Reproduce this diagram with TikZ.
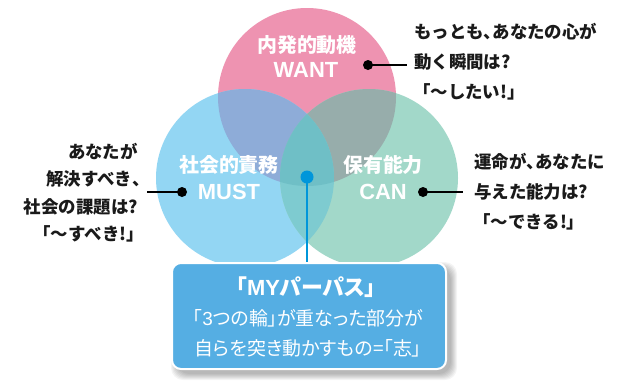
\documentclass[tikz,border=0pt]{standalone}
\usepackage{fontspec}
\newfontfamily\jp{Noto Sans CJK JP}
\newfontfamily\jpp{Noto Sans CJK JP}[RawFeature=+palt]
\newfontfamily\lat{Liberation Sans}
\definecolor{cpink}{HTML}{EE93B1}
\definecolor{cblue}{HTML}{93D6F3}
\definecolor{cgreen}{HTML}{A2D8C9}
\definecolor{cpb}{HTML}{8EACD8}
\definecolor{cpg}{HTML}{97ADAB}
\definecolor{cbg}{HTML}{7ECBD0}
\definecolor{cpbg}{HTML}{6FBFC6}
\definecolor{cbox}{HTML}{55AEE3}
\definecolor{cdot}{HTML}{0096DA}
\definecolor{ctext}{HTML}{1A1A1A}
\newcommand{\tc}{\makebox[0.5em][l]{、}}
\tikzset{
  circlabel/.style={text=white,font=\jp\bfseries\fontsize{20}{22}\selectfont,inner sep=0pt},
  circlat/.style={text=white,font=\lat\bfseries\fontsize{22}{24}\selectfont,inner sep=0pt},
  note/.style={text=ctext,font=\jp\bfseries\fontsize{17.5}{19}\selectfont,inner sep=0pt},
  blackdot/.style={circle,fill=black,minimum size=10bp,inner sep=0pt},
  bluedot/.style={circle,fill=cdot,minimum size=13bp,inner sep=0pt},
  leader/.style={line width=2bp,black},
  boxtitle/.style={text=white,font=\jpp\bfseries\fontsize{22}{24}\selectfont,inner sep=0pt},
  boxtext/.style={text=white,font=\jpp\fontsize{19}{21}\selectfont,inner sep=0pt},
}
\begin{document}
\begin{tikzpicture}[x=1bp,y=-1bp]
\useasboundingbox (0,0) rectangle (620,382);
\fill[white] (0,0) rectangle (620,382);
% circles
\def\R{89}
\coordinate (cw) at (307,97);
\coordinate (cm) at (245,178);
\coordinate (cc) at (369,178);
\fill[cpink] (cw) circle (\R);
\fill[cblue] (cm) circle (\R);
\fill[cgreen] (cc) circle (\R);
\begin{scope}
  \clip (cw) circle (\R);
  \fill[cpb] (cm) circle (\R);
  \fill[cpg] (cc) circle (\R);
\end{scope}
\begin{scope}
  \clip (cm) circle (\R);
  \fill[cbg] (cc) circle (\R);
  \clip (cc) circle (\R);
  \fill[cpbg] (cw) circle (\R);
\end{scope}
% circle labels
\node[circlabel] (wantj) at (307,45) {内発的動機};
\node[circlat] (want) at (306,70) {WANT};
\node[circlabel] (mustj) at (229,165) {社会的責務};
\node[circlat] (must) at (229,192) {MUST};
\node[circlabel] (canj) at (383,165) {保有能力};
\node[circlat] (can) at (383,192) {CAN};
% leaders
\node[blackdot] (dw) at (368,65) {};
\coordinate (ew) at (407,65);
\draw[leader] (dw.center) -- (ew);
\node[blackdot] (dm) at (182,192) {};
\coordinate (em) at (147,192);
\draw[leader] (dm.center) -- (em);
\node[blackdot] (dc) at (423,192) {};
\coordinate (ec) at (463,192);
\draw[leader] (dc.center) -- (ec);
% notes right top
\node[note,anchor=west] (w1) at (414,32) {もっとも\tc あなたの心が};
\node[note,anchor=west] (w2) at (414,62) {動く瞬間は?};
\node[note,anchor=west] (w3) at (413,92) {「〜したい!」};
% notes left
\node[note,anchor=east] (m1) at (138,151) {あなたが};
\node[note,anchor=east] (m2) at (141,179) {解決すべき\tc};
\node[note,anchor=east] (m3) at (138,207) {社会の課題は?};
\node[note,anchor=east] (m4) at (144,234) {「〜すべき!」};
% notes right bottom
\node[note,anchor=west] (c1) at (474,162) {運命が\tc あなたに};
\node[note,anchor=west] (c2) at (474,192) {与えた能力は?};
\node[note,anchor=west] (c3) at (473,222) {「〜できる!」};
% box shadow
\foreach \e in {6,5,4,3,2,1,0}{
  \fill[black,opacity=0.045,rounded corners=12bp] (172+5-\e,263+5-\e) rectangle (446+5+\e,369+5+\e);
}
% box
\node[draw=white,line width=2bp,fill=cbox,rounded corners=9bp,minimum width=274bp,minimum height=106bp,inner sep=0pt] (box) at (309,316) {};
\node[boxtitle] (t1) at (306,287) {「{\lat MY}パーパス」};
\node[boxtext] (t2) at (308,318) {「{\lat 3}つの輪」が重なった部分が};
\node[boxtext] (t3) at (308,348) {自らを突き動かすもの=「志」};
% blue dot and line
\node[bluedot] (bd) at (307,177) {};
\draw[cdot,line width=2.2bp] (bd.center) -- (box.north -| bd);
\end{tikzpicture}
\end{document}
